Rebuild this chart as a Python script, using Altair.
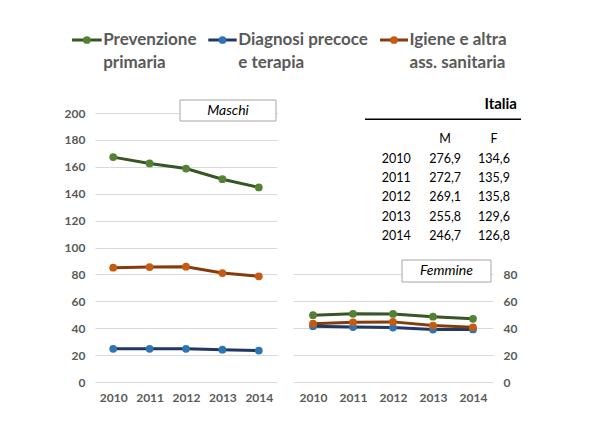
import altair as alt
import pandas as pd

years = ["2010", "2011", "2012", "2013", "2014"]
series = ["Prevenzione primaria", "Diagnosi precoce e terapia", "Igiene e altra ass. sanitaria"]
legend_line1 = ["Prevenzione", "Diagnosi precoce", "Igiene e altra"]
legend_line2 = ["primaria", "e terapia", "ass. sanitaria"]

maschi_prev = [167.2, 162.5, 158.7, 150.8, 144.7]
maschi_diag = [24.7, 24.7, 24.7, 24.0, 23.4]
maschi_igiene = [85.0, 85.5, 85.7, 81.0, 78.6]
femmine_prev = [49.7, 50.7, 50.6, 48.6, 47.0]
femmine_diag = [41.5, 40.8, 40.5, 39.0, 39.1]
femmine_igiene = [43.4, 44.4, 44.7, 42.0, 40.7]

italia_m = ["276,9", "272,7", "269,1", "255,8", "246,7"]
italia_f = ["134,6", "135,9", "135,8", "129,6", "126,8"]

line_colors = ["#375623", "#203864", "#843c0c"]
point_colors = ["#548235", "#2e75b6", "#c55a11"]

TXT = "#595959"
FONT = "Lato"


def long_df(vals_list):
    rows = []
    for s, vals in zip(series, vals_list):
        for y, v in zip(years, vals):
            rows.append({"year": y, "series": s, "value": v})
    return pd.DataFrame(rows)


df_m = long_df([maschi_prev, maschi_diag, maschi_igiene])
df_f = long_df([femmine_prev, femmine_diag, femmine_igiene])

color_scale = alt.Scale(domain=series, range=line_colors)
fill_scale = alt.Scale(domain=series, range=point_colors)


def panel(df, yaxis):
    x = alt.X("year:O", scale=alt.Scale(type="point", padding=0.5),
              axis=alt.Axis(title=None, labelAngle=0, labelPadding=10, grid=False))
    y = alt.Y("value:Q", scale=alt.Scale(domain=[0, 200], nice=False), axis=yaxis)
    lines = alt.Chart(df).mark_line(strokeWidth=3).encode(
        x=x, y=y, color=alt.Color("series:N", scale=color_scale, legend=None))
    pts = alt.Chart(df).mark_circle(size=60, opacity=1).encode(
        x=x, y=y, fill=alt.Fill("series:N", scale=fill_scale, legend=None))
    return lines, pts


# ---------- left panel (Maschi) ----------
l_lines, l_pts = panel(df_m, alt.Axis(title=None, values=list(range(0, 201, 20)),
                                       labelPadding=10, grid=True))

box_m = alt.Chart(pd.DataFrame({"t": ["Maschi"]})).mark_rect(
    fill="white", stroke="#a6a6a6", strokeWidth=1).encode(
    x=alt.value(85), x2=alt.value(181), y=alt.value(-13), y2=alt.value(8))
box_m_txt = alt.Chart(pd.DataFrame({"t": ["Maschi"]})).mark_text(
    font=FONT, fontSize=14, fontStyle="italic", color="black", align="center",
    baseline="middle").encode(x=alt.value(133), y=alt.value(-2.5), text="t:N")

legend_layers = []
leg_x = [(-23, 6.7), (113.3, 141.7), (285, 313)]
for i, s in enumerate(series):
    a, b = leg_x[i]
    d = pd.DataFrame({"l1": [legend_line1[i]], "l2": [legend_line2[i]]})
    legend_layers.append(alt.Chart(d).mark_rule(color=line_colors[i], strokeWidth=3).encode(
        x=alt.value(a), x2=alt.value(b), y=alt.value(-73)))
    legend_layers.append(alt.Chart(d).mark_circle(size=60, opacity=1, color=point_colors[i]).encode(
        x=alt.value((a + b) / 2), y=alt.value(-73)))
    legend_layers.append(alt.Chart(d).mark_text(
        font=FONT, fontSize=17, fontWeight="bold", color=TXT, align="left",
        baseline="middle").encode(x=alt.value(b + 1.5), y=alt.value(-73), text="l1:N"))
    legend_layers.append(alt.Chart(d).mark_text(
        font=FONT, fontSize=17, fontWeight="bold", color=TXT, align="left",
        baseline="middle").encode(x=alt.value(b + 1.5), y=alt.value(-50.5), text="l2:N"))

left = alt.layer(l_lines, l_pts, box_m, box_m_txt, *legend_layers).properties(
    width=182, height=269)

# ---------- right panel (Femmine) ----------
r_lines, r_pts = panel(df_f, alt.Axis(title=None, values=list(range(0, 81, 20)),
                                       orient="right", labelPadding=10, grid=True))
box_f = alt.Chart(pd.DataFrame({"t": ["Femmine"]})).mark_rect(
    fill="white", stroke="#a6a6a6", strokeWidth=1).encode(
    x=alt.value(109), x2=alt.value(198), y=alt.value(147), y2=alt.value(169))
box_f_txt = alt.Chart(pd.DataFrame({"t": ["Femmine"]})).mark_text(
    font=FONT, fontSize=14, fontStyle="italic", color="black", align="center",
    baseline="middle").encode(x=alt.value(153.5), y=alt.value(158), text="t:N")

panel_r = alt.layer(r_lines, r_pts, box_f, box_f_txt)

# table
rows_dom = ["h"] + years
cols_dom = ["anno", "M", "F"]
trows = [{"row": "h", "col": "M", "label": "M"}, {"row": "h", "col": "F", "label": "F"}]
for y, m, f in zip(years, italia_m, italia_f):
    trows += [{"row": y, "col": "anno", "label": y},
              {"row": y, "col": "M", "label": m},
              {"row": y, "col": "F", "label": f}]
tdf = pd.DataFrame(trows)
table = alt.Chart(tdf).mark_text(font=FONT, fontSize=12.5, color="black",
                                 align="center", baseline="middle").encode(
    x=alt.X("col:N", scale=alt.Scale(type="point", domain=cols_dom, range=[103.3, 201], padding=0), axis=None),
    y=alt.Y("row:N", scale=alt.Scale(type="point", domain=rows_dom, range=[26.3, 123], padding=0), axis=None),
    text="label:N")
italia = alt.Chart(pd.DataFrame({"t": ["Italia"]})).mark_text(
    font=FONT, fontSize=15, fontWeight="bold", color="black", align="right",
    baseline="middle").encode(x=alt.value(224), y=alt.value(-9), text="t:N")
italia_rule = alt.Chart(pd.DataFrame({"t": ["Italia"]})).mark_rule(
    color="black", strokeWidth=1.5).encode(x=alt.value(72), x2=alt.value(228), y=alt.value(6.3))

right = alt.layer(panel_r, table, italia, italia_rule).resolve_scale(
    x="independent", y="independent").properties(width=200, height=269)

chart = alt.hconcat(left, right).properties(
    spacing=16, bounds="flush",
    padding={"left": 56, "top": 23, "right": 5, "bottom": 5}
).configure_view(stroke=None).configure_axis(
    labelFont=FONT, labelFontSize=12, labelFontWeight="bold", labelColor=TXT,
    domain=False, ticks=False, gridColor="#d9d9d9", gridWidth=1
)

chart.save("out.html", embed_options={"renderer": "svg", "actions": False})
